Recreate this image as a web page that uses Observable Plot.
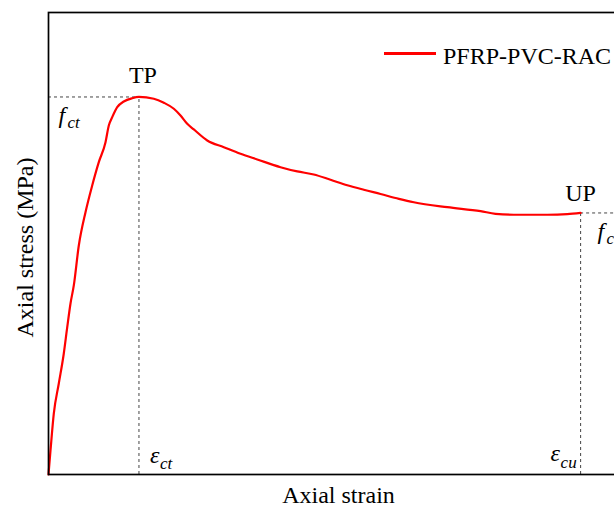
<!DOCTYPE html>
<html>
<head>
<meta charset="utf-8">
<script src="https://cdn.jsdelivr.net/npm/d3@7"></script>
<script src="https://cdn.jsdelivr.net/npm/@observablehq/plot@0.6"></script>
<style>
  html, body { margin: 0; padding: 0; background: #fff; }
  #wrap { position: relative; width: 614px; height: 506px; overflow: hidden; }
  #chart svg { max-width: none !important; }
  #legend { position: absolute; left: 384px; top: 44px; display: flex; align-items: center;
            font-family: "Liberation Serif", "Times New Roman", serif; font-size: 24px; line-height: 24px; color: #000; white-space: nowrap; }
  #legend .swatch { width: 52px; height: 2.5px; background: #ff0000; margin-right: 7px; margin-top: -5px; }
</style>
</head>
<body>
<div id="wrap">
  <div id="chart"></div>
  <div id="legend"><span class="swatch"></span><span>PFRP-PVC-RAC</span></div>
</div>
<script>
// Axial stress–strain curve of a PFRP-PVC-RAC specimen
const strain = [0, 0.000075, 0.000199, 0.000387, 0.000575, 0.000703, 0.000827, 0.000951, 0.001139, 0.001391,
  0.001643, 0.001891, 0.002143, 0.002267, 0.002395, 0.002583, 0.002831, 0.003147, 0.00340, 0.003959,
  0.004335, 0.004711, 0.004962, 0.005214, 0.005462, 0.005966, 0.006590, 0.007218, 0.007846, 0.00872,
  0.00935, 0.00997, 0.01060, 0.01123, 0.01185, 0.01248, 0.01317, 0.01373, 0.01499, 0.01624,
  0.01680, 0.01749, 0.01875, 0.01950, 0.02000];
const stress = [0, 2.54, 6.46, 9.64, 12.82, 15.58, 18.12, 20.03, 24.26, 27.79,
  30.62, 33.09, 35.21, 36.98, 37.86, 38.92, 39.52, 39.87, 40.00, 39.81,
  39.39, 38.75, 38.04, 37.16, 36.56, 35.39, 34.68, 33.98, 33.38, 32.56,
  32.11, 31.79, 31.23, 30.65, 30.17, 29.72, 29.21, 28.85, 28.32, 27.90,
  27.62, 27.52, 27.52, 27.58, 27.71];

// Characteristic points: turning point (TP) and ultimate point (UP)
const pointNames = ["TP", "UP"];
const pointStrain = [0.0034, 0.0200];
const pointStress = [40.0, 27.71];

const xMax = 0.0218;
const yMax = 48.95;

const curve = strain.map((e, i) => ({strain: e, stress: stress[i]}));
const points = pointNames.map((n, i) => ({name: n, strain: pointStrain[i], stress: pointStress[i]}));
const [tp, up] = points;

const serif = "Liberation Serif, Times New Roman, serif";
const dashColor = "#444";

const chart = Plot.plot({
  width: 650,
  height: 506,
  marginLeft: 48,
  marginRight: 22,
  marginTop: 12,
  marginBottom: 32,
  style: {fontFamily: serif, background: "#fff", maxWidth: "none", overflow: "visible"},
  x: {domain: [0, xMax], axis: null},
  y: {domain: [0, yMax], axis: null},
  marks: [
    // dotted guides to the characteristic points
    Plot.ruleY([tp], {x1: 0, x2: "strain", y: "stress", stroke: dashColor, strokeWidth: 1, strokeDasharray: "3,3"}),
    Plot.ruleX([tp], {x: "strain", y1: 0, y2: "stress", stroke: dashColor, strokeWidth: 1, strokeDasharray: "3,3"}),
    Plot.ruleY([up], {x1: "strain", x2: xMax, y: "stress", stroke: dashColor, strokeWidth: 1, strokeDasharray: "3,3"}),
    Plot.ruleX([up], {x: "strain", y1: 0, y2: "stress", stroke: dashColor, strokeWidth: 1, strokeDasharray: "3,3"}),
    // the curve
    Plot.line(curve, {x: "strain", y: "stress", stroke: "#ff0000", strokeWidth: 2.2, curve: "monotone-x"}),
    // point names
    Plot.text([tp], {x: "strain", y: "stress", text: "name", dx: 4, dy: -13.5, lineAnchor: "bottom", fontSize: 24, fill: "#000"}),
    Plot.text([up], {x: "strain", y: "stress", text: "name", dx: 0, dy: -11.5, lineAnchor: "bottom", fontSize: 24, fill: "#000"}),
    // f_ct
    Plot.text([tp], {x: 0, y: "stress", text: () => "f", dx: 10, dy: 26, textAnchor: "start", lineAnchor: "bottom", fontSize: 24, fontStyle: "italic", fill: "#000"}),
    Plot.text([tp], {x: 0, y: "stress", text: () => "ct", dx: 19, dy: 31, textAnchor: "start", lineAnchor: "bottom", fontSize: 17, fontStyle: "italic", fill: "#000"}),
    // f_cu
    Plot.text([up], {x: "strain", y: "stress", text: () => "f", dx: 17, dy: 26, textAnchor: "start", lineAnchor: "bottom", fontSize: 24, fontStyle: "italic", fill: "#000"}),
    Plot.text([up], {x: "strain", y: "stress", text: () => "cu", dx: 26, dy: 31, textAnchor: "start", lineAnchor: "bottom", fontSize: 17, fontStyle: "italic", fill: "#000"}),
    // ε_ct
    Plot.text([tp], {x: "strain", y: 0, text: () => "ε", dx: 11, dy: -12, textAnchor: "start", lineAnchor: "bottom", fontSize: 24, fontStyle: "italic", fill: "#000"}),
    Plot.text([tp], {x: "strain", y: 0, text: () => "ct", dx: 21, dy: -6, textAnchor: "start", lineAnchor: "bottom", fontSize: 17, fontStyle: "italic", fill: "#000"}),
    // ε_cu
    Plot.text([up], {x: "strain", y: 0, text: () => "ε", dx: -30, dy: -14, textAnchor: "start", lineAnchor: "bottom", fontSize: 24, fontStyle: "italic", fill: "#000"}),
    Plot.text([up], {x: "strain", y: 0, text: () => "cu", dx: -20, dy: -7, textAnchor: "start", lineAnchor: "bottom", fontSize: 17, fontStyle: "italic", fill: "#000"}),
    // axis titles
    Plot.text(["Axial strain"], {frameAnchor: "bottom", textAnchor: "middle", dy: 28, lineAnchor: "bottom", fontSize: 24, fill: "#000"}),
    Plot.text(["Axial stress (MPa)"], {frameAnchor: "left", textAnchor: "middle", dx: -16, dy: 4, rotate: -90, lineAnchor: "bottom", fontSize: 24, fill: "#000"}),
    Plot.frame({stroke: "#000", strokeWidth: 1.7})
  ]
});
document.getElementById("chart").appendChild(chart);
</script>
</body>
</html>
